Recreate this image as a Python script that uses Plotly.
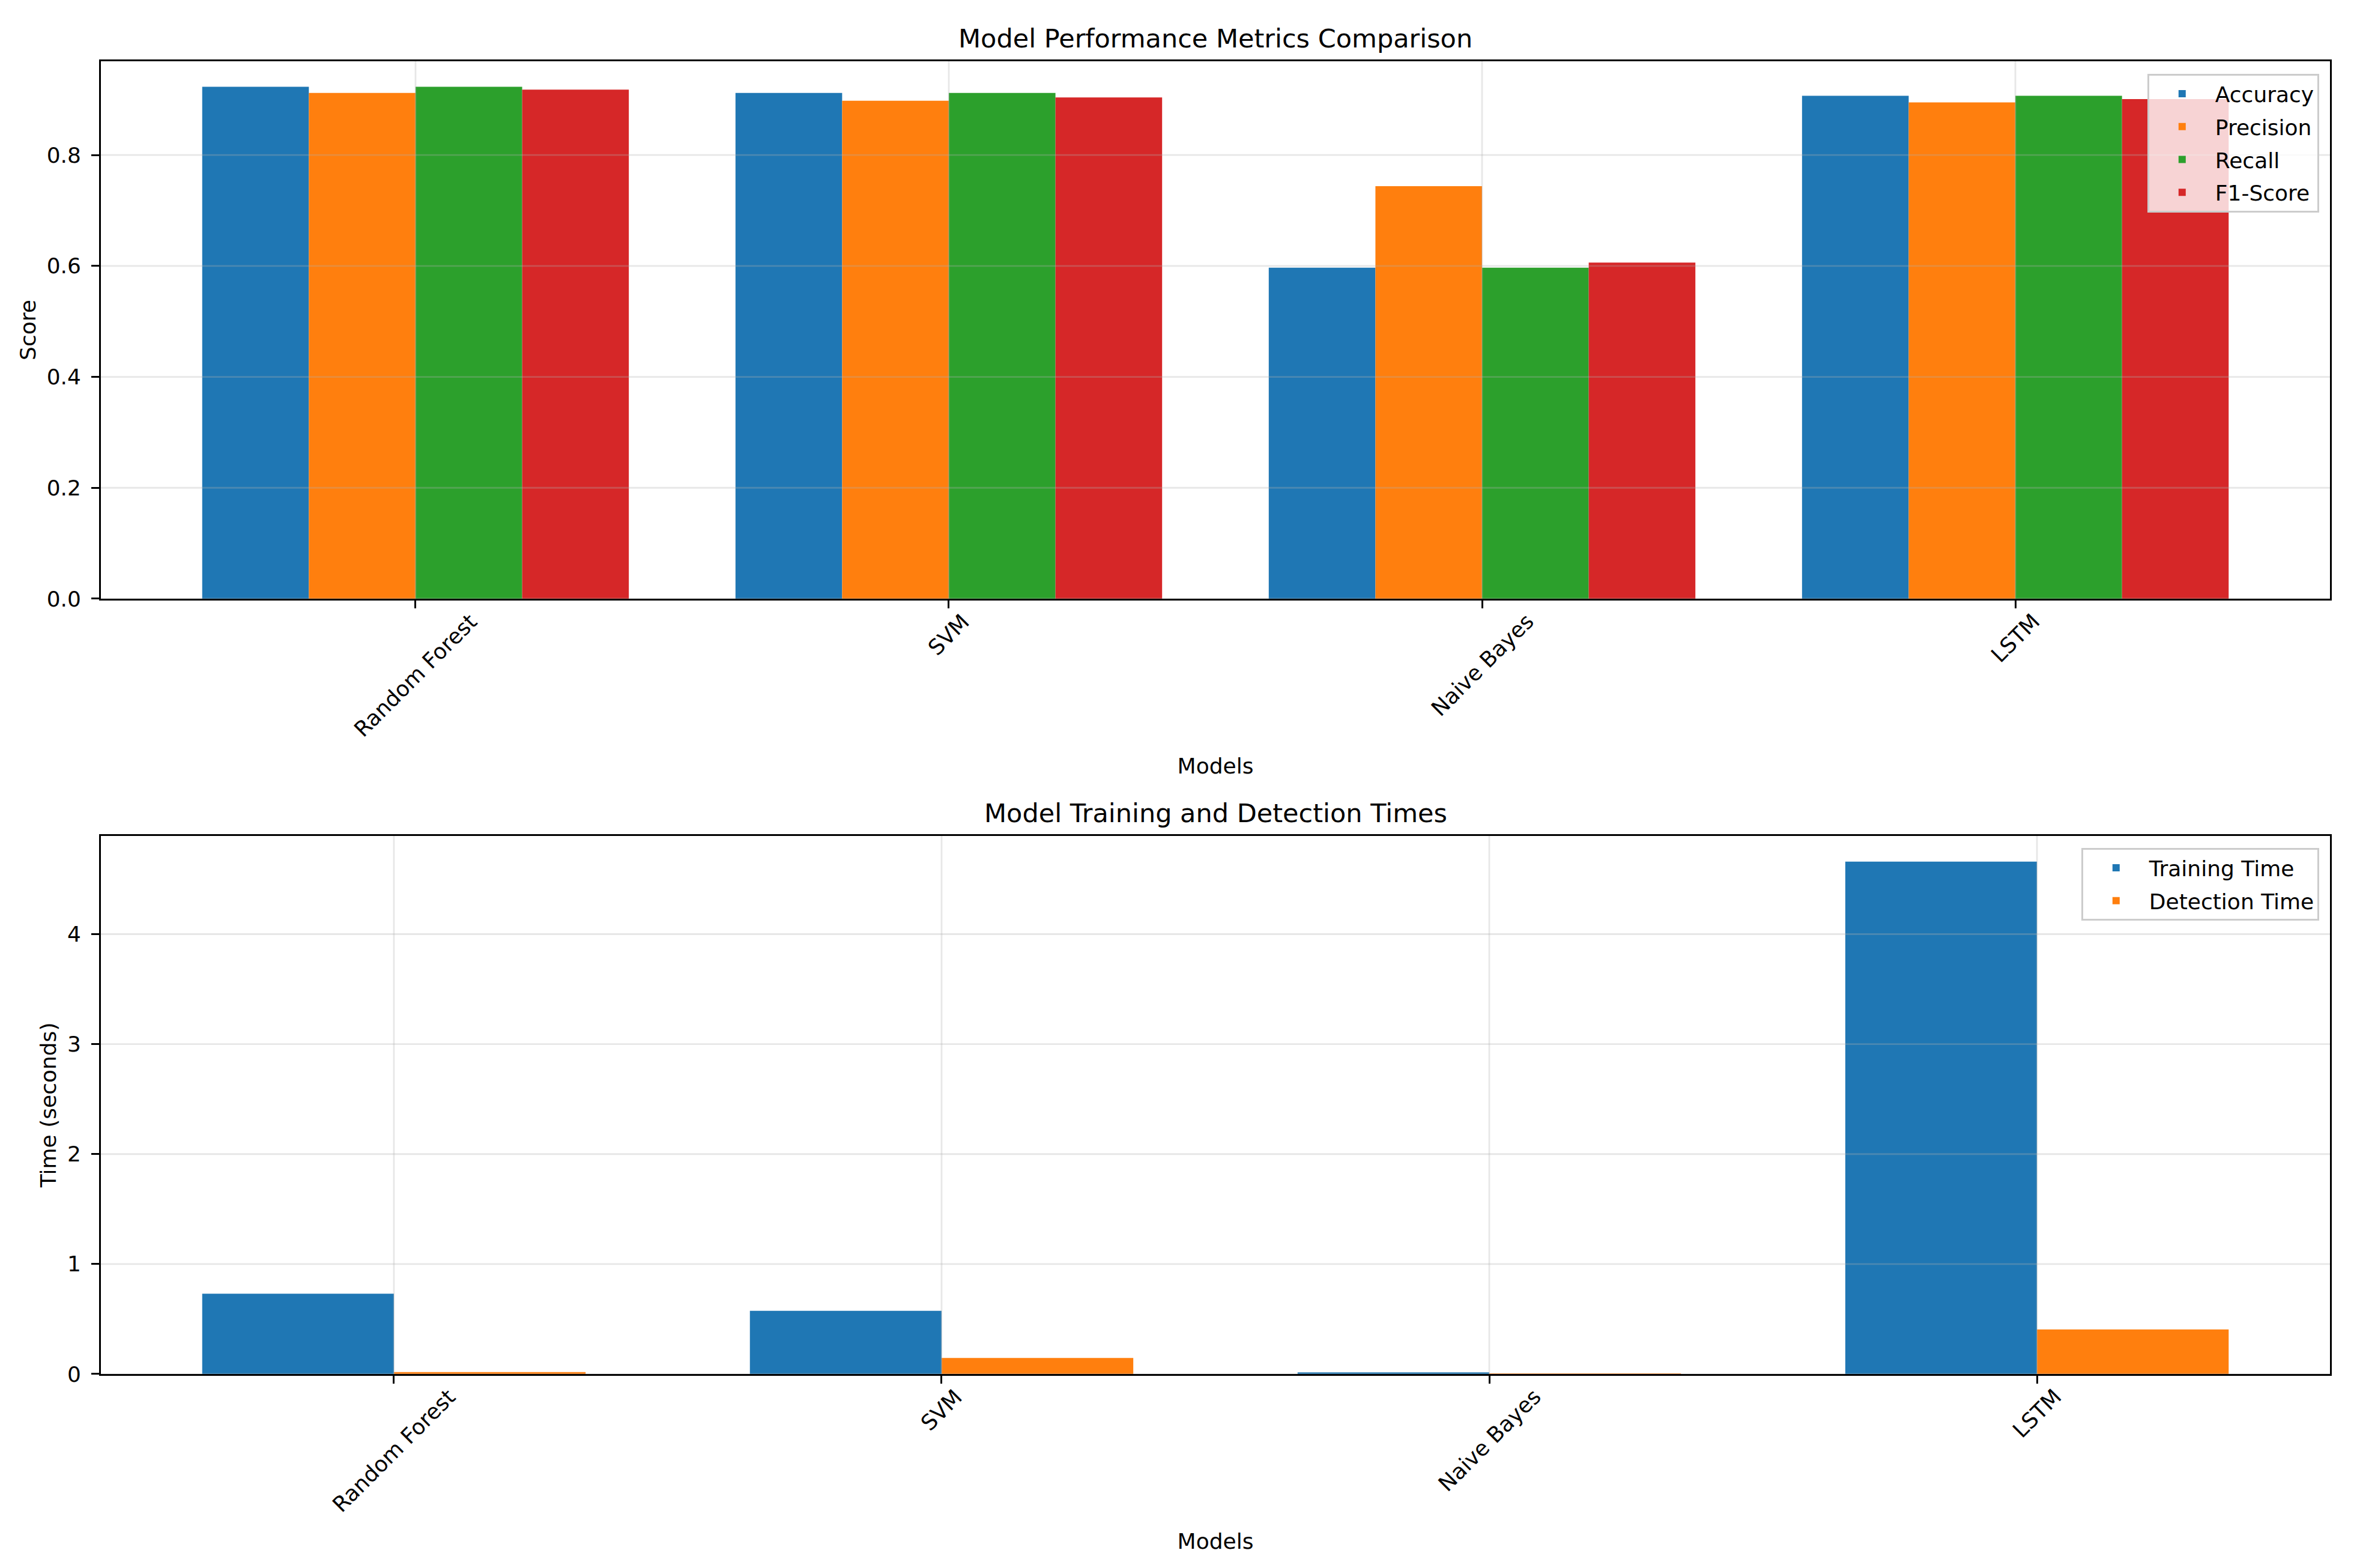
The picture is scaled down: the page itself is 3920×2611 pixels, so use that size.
import plotly.graph_objects as go

# ---------------- data ----------------
models = ["Random Forest", "SVM", "Naive Bayes", "LSTM"]
metric_names = ["Accuracy", "Precision", "Recall", "F1-Score"]
accuracy = [0.923, 0.912, 0.597, 0.907]
precision = [0.912, 0.898, 0.744, 0.895]
recall = [0.923, 0.912, 0.597, 0.907]
f1_score = [0.918, 0.904, 0.606, 0.901]
time_names = ["Training Time", "Detection Time"]
training_time = [0.730, 0.575, 0.015, 4.66]
detection_time = [0.018, 0.146, 0.002, 0.406]
score_ticks = [0.0, 0.2, 0.4, 0.6, 0.8]
time_ticks = [0, 1, 2, 3, 4]

# ---------------- style ----------------
C = ["#1f77b4", "#ff7f0e", "#2ca02c", "#d62728"]
FONT = "DejaVu Sans"
TICK_PX = 36
TITLE_PX = 43
LW = 2.8
GRID = "rgba(176,176,176,0.3)"
TOP_DOM = [0.5906, 1.0]
BOT_DOM = [0.0, 0.4099]

pos = list(range(len(models)))
fig = go.Figure()

metrics = [accuracy, precision, recall, f1_score]
w1 = 0.2
for k, (name, vals) in enumerate(zip(metric_names, metrics)):
    fig.add_trace(go.Bar(
        x=pos, y=vals, name=name, width=w1, offset=-0.4 + k * w1,
        marker=dict(color=C[k], line=dict(width=0)),
        xaxis="x", yaxis="y", legend="legend", legendgroup="m%d" % k,
    ))

times = [training_time, detection_time]
w2 = 0.35
for k, (name, vals) in enumerate(zip(time_names, times)):
    fig.add_trace(go.Bar(
        x=pos, y=vals, name=name, width=w2, offset=-w2 + k * w2,
        marker=dict(color=C[k], line=dict(width=0)),
        xaxis="x2", yaxis="y2", legend="legend2", legendgroup="t%d" % k,
    ))

top_max = max(max(m) for m in metrics) * 1.05
bot_max = max(max(t) for t in times) * 1.05

common_x = dict(
    tickvals=pos, showticklabels=False, ticks="outside", ticklen=13,
    tickwidth=LW, tickcolor="black", showline=True, linecolor="black",
    linewidth=LW, mirror=True, showgrid=False, zeroline=False,
    title=dict(text="Models", font=dict(family=FONT, size=TICK_PX, color="black"), standoff=251),
)
common_y = dict(
    ticks="outside", ticklen=13, tickwidth=LW, tickcolor="black",
    showline=True, linecolor="black", linewidth=LW, mirror=True,
    showgrid=False, zeroline=False, ticklabelstandoff=10,
    tickfont=dict(family=FONT, size=TICK_PX, color="black"),
)
leg_common = dict(xanchor="right", yanchor="top",
                  bgcolor="rgba(255,255,255,0.8)", bordercolor="#cccccc", borderwidth=3,
                  font=dict(family=FONT, size=TICK_PX, color="black"),
                  tracegroupgap=5, itemwidth=100)

fig.update_layout(
    width=3920, height=2611,
    paper_bgcolor="white", plot_bgcolor="white",
    margin=dict(l=160, r=48, t=94, b=331),
    barmode="overlay",
    font=dict(family=FONT, size=TICK_PX, color="black"),
    xaxis=dict(domain=[0, 1], anchor="y", range=[-0.59, 3.59], **common_x),
    yaxis=dict(domain=TOP_DOM, anchor="x", range=[0, top_max], tickvals=score_ticks,
               tickformat=".1f",
               title=dict(text="Score", font=dict(family=FONT, size=TICK_PX), standoff=8),
               **common_y),
    xaxis2=dict(domain=[0, 1], anchor="y2", range=[-0.535, 3.535], **common_x),
    yaxis2=dict(domain=BOT_DOM, anchor="x2", range=[0, bot_max], tickvals=time_ticks,
                title=dict(text="Time (seconds)", font=dict(family=FONT, size=TICK_PX), standoff=8),
                **common_y),
    legend=dict(x=0.9951, y=0.9904, **leg_common),
    legend2=dict(x=0.9951, y=0.4007, **leg_common),
    showlegend=True,
)

# grid lines drawn above the bars (as in the reference), at the tick positions
shapes = []
for xa, ya, yt in (("x", "y", score_ticks), ("x2", "y2", time_ticks)):
    for v in yt:
        shapes.append(dict(type="line", xref=xa + " domain", yref=ya, x0=0, x1=1, y0=v, y1=v,
                           line=dict(color=GRID, width=LW), layer="above"))
    for i in pos:
        shapes.append(dict(type="line", xref=xa, yref=ya + " domain", x0=i, x1=i, y0=0, y1=1,
                           line=dict(color=GRID, width=LW), layer="above"))
fig.update_layout(shapes=shapes)

ann = []
for xa, dom in (("x", TOP_DOM), ("x2", BOT_DOM)):
    for i, m in enumerate(models):
        ann.append(dict(x=i, xref=xa, y=dom[0], yref="paper", text=m, showarrow=False,
                        textangle=-45, xanchor="center", yanchor="top", yshift=-14,
                        font=dict(family=FONT, size=TICK_PX, color="black")))
ann.append(dict(x=0.5, xref="paper", y=TOP_DOM[1], yref="paper",
                text="Model Performance Metrics Comparison", showarrow=False,
                xanchor="center", yanchor="bottom", yshift=11,
                font=dict(family=FONT, size=TITLE_PX, color="black")))
ann.append(dict(x=0.5, xref="paper", y=BOT_DOM[1], yref="paper",
                text="Model Training and Detection Times", showarrow=False,
                xanchor="center", yanchor="bottom", yshift=11,
                font=dict(family=FONT, size=TITLE_PX, color="black")))
fig.update_layout(annotations=ann)

fig.write_html("out.html")
